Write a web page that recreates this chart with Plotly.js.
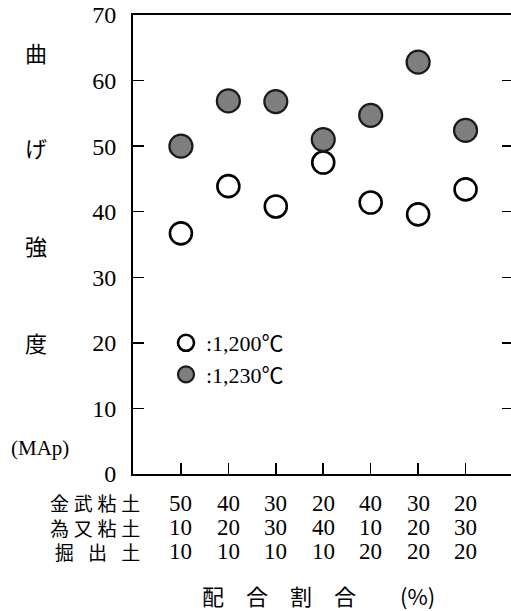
<!DOCTYPE html>
<html>
<head>
<meta charset="utf-8">
<script src="https://cdn.plot.ly/plotly-3.0.1.min.js"></script>
<style>
  html, body { margin: 0; padding: 0; overflow: hidden; background: #fff; }
  #chart { width: 513px; height: 611px; }
</style>
</head>
<body>
<div id="chart"></div>
<script>
// Mix index (one per blend) and the blend composition in percent
const mixIndex = [0, 1, 2, 3, 4, 5, 6];
const kintakeClay = [50, 40, 30, 20, 40, 30, 20];
const tamataClay = [10, 20, 30, 40, 10, 20, 30];
const excavatedSoil = [10, 10, 10, 10, 20, 20, 20];
const rowLabels = ['金\u2005武\u2005粘\u2005土', '為\u2005又\u2005粘\u2005土', '掘\u2002\u2005出\u2002\u2005土'];

// Bending strength per blend at each firing temperature
const strength1200 = [36.7, 43.9, 40.8, 47.5, 41.4, 39.6, 43.4];
const strength1230 = [50.0, 56.9, 56.8, 51.0, 54.7, 62.8, 52.4];
const seriesNames = [':1,200℃', ':1,230℃'];

// Axis titles
const yTitleChars = ['曲', 'げ', '強', '度'];
const yUnit = '(MAp)';
const xTitle = '配\u3000合\u3000割\u3000合\u3000\u3000(%)';

const SERIF = "'Liberation Serif', 'Noto Sans CJK JP', serif";
const CJK = "'Noto Sans CJK JP', sans-serif";

// plot-area geometry (px) used to place the free-standing labels
const M = { l: 133, t: 15, b: 137, r: 0 };
const FIG_W = 513, FIG_H = 611;
const PLOT_H = FIG_H - M.t - M.b;
const PLOT_W = FIG_W - M.l - M.r;
const paperY = px => (FIG_H - M.b - px) / PLOT_H;
const paperX = px => (px - M.l) / PLOT_W;

const traces = [
  {
    x: mixIndex, y: strength1200, name: seriesNames[0],
    type: 'scatter', mode: 'markers',
    marker: { symbol: 'circle', size: 22, color: '#ffffff', line: { color: '#000000', width: 2.6 } },
    hoverinfo: 'y'
  },
  {
    x: mixIndex, y: strength1230, name: seriesNames[1],
    type: 'scatter', mode: 'markers',
    marker: { symbol: 'circle', size: 23, color: '#7e7e7e', line: { color: '#1a1a1a', width: 2.2 } },
    hoverinfo: 'y'
  }
];

const annotations = [];

// composition table under the x axis: row names in one block, values per cell
annotations.push({
  xref: 'paper', yref: 'paper', x: paperX(142), y: paperY(527),
  xanchor: 'right', yanchor: 'middle', align: 'right', showarrow: false,
  text: rowLabels.join('<br>'), font: { family: CJK, size: 19, color: '#000' }
});
const rows = [kintakeClay, tamataClay, excavatedSoil];
const rowY = [503, 527, 551];
rows.forEach((vals, r) => {
  vals.forEach((v, i) => {
    annotations.push({
      xref: 'x', yref: 'paper', x: mixIndex[i], y: paperY(rowY[r]),
      xanchor: 'center', yanchor: 'middle', showarrow: false,
      text: String(v), font: { family: SERIF, size: 23, color: '#000' }
    });
  });
});

// x title
annotations.push({
  xref: 'paper', yref: 'paper', x: paperX(200), y: paperY(595),
  xanchor: 'left', yanchor: 'middle', showarrow: false,
  text: xTitle, font: { family: CJK, size: 22, color: '#000' }
});

// y title, one character per line spread down the side
const yCharPos = [52, 147, 245, 342];
yTitleChars.forEach((c, k) => {
  annotations.push({
    xref: 'paper', yref: 'paper', x: paperX(36), y: paperY(yCharPos[k]),
    xanchor: 'center', yanchor: 'middle', showarrow: false,
    text: c, font: { family: CJK, size: 22, color: '#000' }
  });
});
annotations.push({
  xref: 'paper', yref: 'paper', x: paperX(40), y: paperY(448),
  xanchor: 'center', yanchor: 'middle', showarrow: false,
  text: yUnit, font: { family: SERIF, size: 21, color: '#000' }
});

const layout = {
  width: FIG_W, height: FIG_H,
  margin: M,
  paper_bgcolor: '#ffffff', plot_bgcolor: '#ffffff',
  showlegend: true,
  legend: {
    x: paperX(166), y: paperY(322), xanchor: 'left', yanchor: 'top',
    bgcolor: 'rgba(0,0,0,0)', borderwidth: 0,
    font: { family: SERIF, size: 22, color: '#000' },
    tracegroupgap: 0
  },
  xaxis: {
    type: 'linear', range: [-1.01, 7.0],
    tickvals: mixIndex, showticklabels: false,
    ticks: 'inside', ticklen: 11, tickwidth: 1.5, tickcolor: '#000',
    showline: true, linecolor: '#000', linewidth: 2, mirror: true,
    showgrid: false, zeroline: false, fixedrange: true
  },
  yaxis: {
    range: [0, 70], dtick: 10, tick0: 0,
    ticks: 'inside', ticklen: 11, tickwidth: 1.5, tickcolor: '#000',
    showline: true, linecolor: '#000', linewidth: 2, mirror: 'ticks',
    showgrid: false, zeroline: false, fixedrange: true,
    ticklabelstandoff: 10,
    tickfont: { family: SERIF, size: 24, color: '#000' }
  },
  annotations: annotations
};

Plotly.newPlot('chart', traces, layout, { displayModeBar: false, staticPlot: true });
</script>
</body>
</html>
